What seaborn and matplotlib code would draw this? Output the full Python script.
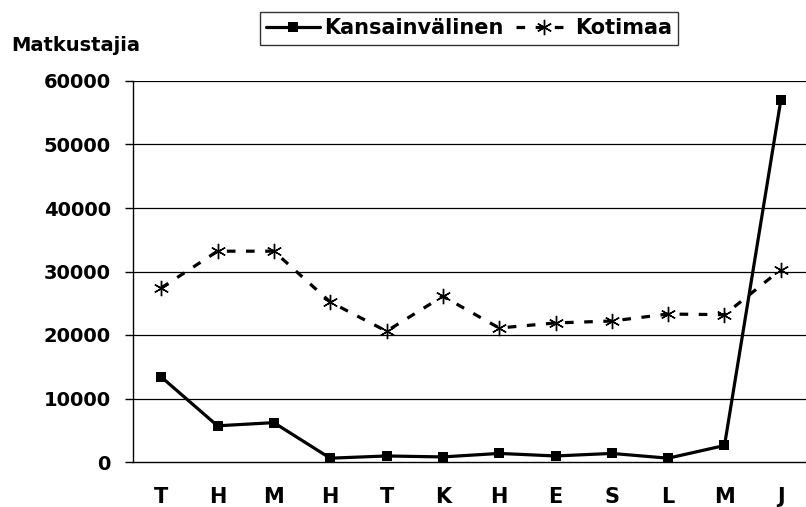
"""
Monthly passenger counts, international vs domestic.
"""

import matplotlib
matplotlib.use("Agg")
import matplotlib.pyplot as plt
import numpy as np
import pandas as pd
import seaborn as sns

months = ['T', 'H', 'M', 'H', 'T', 'K', 'H', 'E', 'S', 'L', 'M', 'J']
kansainvalinen = [13400, 5700, 6200, 600, 950, 800, 1350, 950, 1350, 600, 2600, 57000]
kotimaa = [27400, 33200, 33200, 25200, 20600, 26100, 21100, 21900, 22200, 23300, 23200, 30300]
y_ticks = [0, 10000, 20000, 30000, 40000, 50000, 60000]

sns.set_style('white')
plt.rcParams['font.family'] = ['DejaVu Sans']
plt.rcParams['font.weight'] = 'bold'
plt.rcParams['text.color'] = 'black'
plt.rcParams['xtick.color'] = 'black'
plt.rcParams['ytick.color'] = 'black'
plt.rcParams['axes.labelcolor'] = 'black'
FS = 14

pos = np.arange(len(months))
df = pd.DataFrame({'pos': pos, 'Kansainvälinen': kansainvalinen, 'Kotimaa': kotimaa})

fig = plt.figure(figsize=(8.06, 5.07), dpi=100)
ax = fig.add_axes([133 / 806, 45 / 507, 676 / 806, 381 / 507])

sns.lineplot(data=df, x='pos', y='Kansainvälinen', ax=ax, color='black',
             linewidth=2.3, marker='s', markersize=7, markeredgewidth=0,
             markeredgecolor='black', label='Kansainvälinen', legend=False)
sns.lineplot(data=df, x='pos', y='Kotimaa', ax=ax, color='black',
             linewidth=2.3, linestyle=(0, (2.7, 3.3)), marker=(6, 2, 0),
             markersize=11, markeredgewidth=1.0, markeredgecolor='black',
             markerfacecolor='black', label='Kotimaa', legend=False)

ax.set_xlim(-0.5, len(months) - 0.5)
ax.set_ylim(0, 60000)
ax.set_yticks(y_ticks)
ax.set_yticklabels([str(v) for v in y_ticks], fontsize=FS, fontweight='bold')
ax.set_xticks(pos)
ax.set_xticklabels(months, fontsize=FS + 1, fontweight='bold')
ax.set_xticks(np.arange(len(months)) - 0.5, minor=True)
ax.tick_params(axis='x', which='major', length=0, pad=18)
ax.tick_params(axis='x', which='minor', length=6, width=1, direction='out', color='black')
ax.tick_params(axis='y', length=6, width=1, direction='out', color='black', pad=10, left=True)
ax.set_xlabel('')
ax.set_ylabel('')

for v in y_ticks[1:]:
    ax.axhline(v, color='black', linewidth=1.6 if v == 60000 else 0.9, zorder=0)

for s in ['top', 'right']:
    ax.spines[s].set_visible(False)
for s in ['left', 'bottom']:
    ax.spines[s].set_color('black')
    ax.spines[s].set_linewidth(1.0)

fig.text(11 / 806, 1 - 51 / 507, 'Matkustajia', fontsize=FS, fontweight='bold',
         va='baseline', ha='left')

handles, labels = ax.get_legend_handles_labels()
leg = fig.legend(handles, labels, loc='center', bbox_to_anchor=(469 / 806, 1 - 28.5 / 507),
                 ncol=2, frameon=True, fancybox=False, edgecolor='black',
                 prop={'size': 15, 'weight': 'bold'}, handlelength=2.6,
                 handletextpad=0.2, columnspacing=0.6, borderpad=0.3,
                 borderaxespad=0)
leg.get_frame().set_linewidth(1.0)

fig.savefig('out.png', dpi=100, facecolor='white')
